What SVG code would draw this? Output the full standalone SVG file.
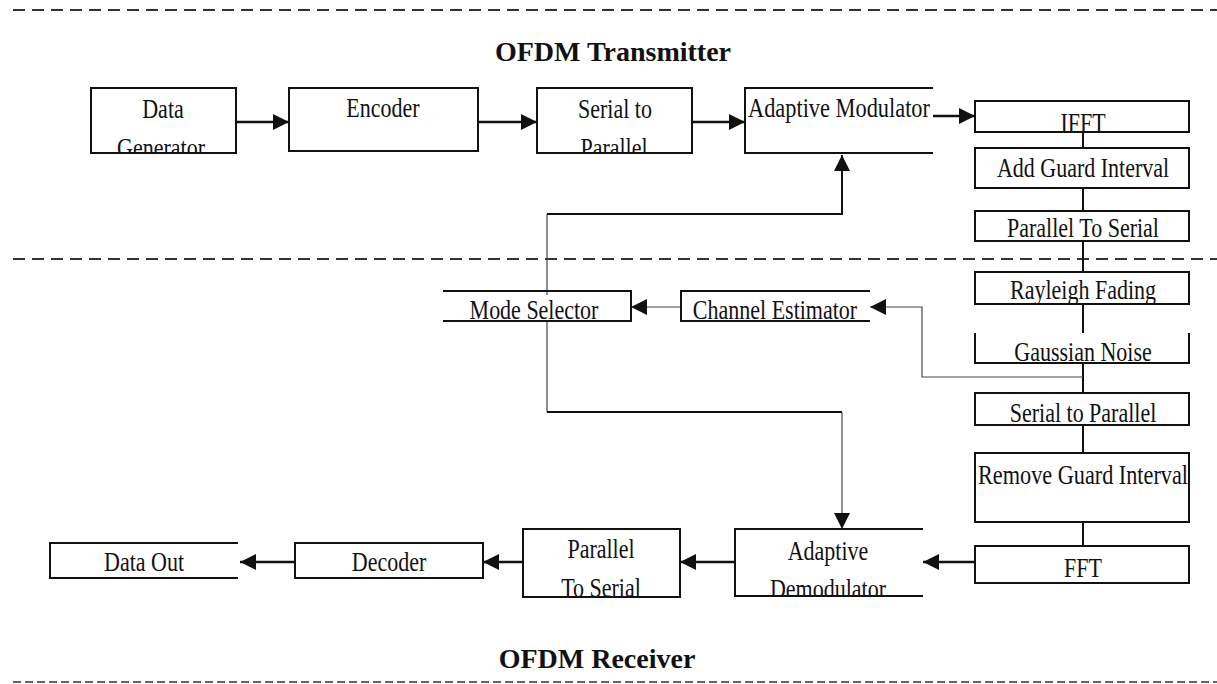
<svg xmlns="http://www.w3.org/2000/svg" width="1217" height="684" viewBox="0 0 1217 684">
<defs>
<style>
.t{font-family:"Liberation Serif","Times New Roman",serif;font-size:22px;fill:#111;text-anchor:middle}
.s{text-anchor:start}
.title{font-family:"Liberation Serif","Times New Roman",serif;font-size:28px;font-weight:bold;fill:#111;text-anchor:middle}
.box{fill:none;stroke:#111;stroke-width:2}
.dash{stroke:#333;stroke-width:2;stroke-dasharray:12 7;fill:none}
.dash2{stroke:#666;stroke-width:2;stroke-dasharray:8 4;fill:none}
.c{fill:none;stroke:#111;stroke-width:2.5}
.cv{fill:none;stroke:#111;stroke-width:2}
.thin{fill:none;stroke:#444;stroke-width:1.2}
</style>
<marker id="ah" viewBox="0 0 16 16" refX="16" refY="8" markerWidth="16" markerHeight="16" markerUnits="userSpaceOnUse" orient="auto">
<path d="M0,0 L16,8 L0,16 z" fill="#111"/>
</marker>
<clipPath id="clipGen" clipPathUnits="userSpaceOnUse"><rect x="91" y="88" width="145" height="65"/></clipPath>
<clipPath id="clipPar" clipPathUnits="userSpaceOnUse"><rect x="537" y="88" width="155" height="65"/></clipPath>
<clipPath id="clipDem" clipPathUnits="userSpaceOnUse"><rect x="735" y="529" width="188" height="67"/></clipPath>
<clipPath id="clipP2S" clipPathUnits="userSpaceOnUse"><rect x="523" y="529" width="157" height="68"/></clipPath>
</defs>
<rect width="1217" height="684" fill="#fff"/>

<g id="separators">
<line class="dash" x1="13" y1="10" x2="1217" y2="10"/>
<line class="dash" x1="13" y1="259" x2="1217" y2="259"/>
<line class="dash2" x1="13" y1="682" x2="1217" y2="682"/>
</g>

<g id="titles">
<text class="title" x="613" y="61">OFDM Transmitter</text>
<text class="title" x="597" y="668">OFDM Receiver</text>
</g>

<g id="connectors">
<line class="c" x1="236" y1="122" x2="289" y2="122" marker-end="url(#ah)"/>
<line class="c" x1="478" y1="122" x2="537" y2="122" marker-end="url(#ah)"/>
<line class="c" x1="692" y1="122" x2="745" y2="122" marker-end="url(#ah)"/>
<line class="c" x1="933" y1="116" x2="975" y2="116" marker-end="url(#ah)"/>
<line class="cv" x1="1083" y1="132" x2="1083" y2="148"/>
<line class="cv" x1="1083" y1="188" x2="1083" y2="211"/>
<line class="cv" x1="1083" y1="241" x2="1083" y2="272"/>
<line class="cv" x1="1083" y1="304" x2="1083" y2="333"/>
<line class="cv" x1="1083" y1="363" x2="1083" y2="393"/>
<line class="cv" x1="1083" y1="425" x2="1083" y2="453"/>
<line class="cv" x1="1083" y1="522" x2="1083" y2="546"/>
<line class="c" x1="975" y1="562" x2="923" y2="562" marker-end="url(#ah)"/>
<line class="c" x1="735" y1="562" x2="680" y2="562" marker-end="url(#ah)"/>
<line class="c" x1="523" y1="562" x2="483" y2="562" marker-end="url(#ah)"/>
<line class="c" x1="295" y1="562" x2="240" y2="562" marker-end="url(#ah)"/>
<polyline class="thin" points="1083,377 922,377 922,307 870,307" marker-end="url(#ah)"/>
<line class="thin" x1="681" y1="307" x2="631" y2="307" marker-end="url(#ah)"/>
<line class="thin" x1="547" y1="295" x2="547" y2="214"/>
<polyline class="cv" points="547,214 842,214 842,155" marker-end="url(#ah)"/>
<line class="thin" x1="547" y1="321" x2="547" y2="412"/>
<line class="cv" x1="547" y1="412" x2="842" y2="412"/>
<line class="thin" x1="842" y1="412" x2="842" y2="529" marker-end="url(#ah)"/>
</g>

<g id="data-generator">
<rect class="box" x="91" y="88" width="145" height="65"/>
<text class="t" transform="translate(163,118) scale(1,1.25)">Data</text>
<g clip-path="url(#clipGen)"><text class="t" transform="translate(161,157) scale(1,1.25)">Generator</text></g>
</g>
<g id="encoder">
<rect class="box" x="289" y="88" width="189" height="63"/>
<text class="t" transform="translate(383,117) scale(1,1.25)">Encoder</text>
</g>
<g id="serial-to-parallel-tx">
<rect class="box" x="537" y="88" width="155" height="65"/>
<text class="t" transform="translate(615,118) scale(1,1.25)">Serial to</text>
<g clip-path="url(#clipPar)"><text class="t" transform="translate(614,157) scale(1,1.25)">Parallel</text></g>
</g>
<g id="adaptive-modulator">
<path class="box" d="M933,88 H745 V153 H933"/>
<text class="t s" transform="translate(748,117) scale(1,1.25)" textLength="182" lengthAdjust="spacingAndGlyphs">Adaptive Modulator</text>
</g>
<g id="ifft">
<rect class="box" x="975" y="101" width="214" height="31"/>
<text class="t" transform="translate(1083,132) scale(1,1.25)">IFFT</text>
</g>
<g id="add-guard-interval">
<rect class="box" x="975" y="148" width="214" height="40"/>
<text class="t" transform="translate(1083,177) scale(1,1.25)">Add Guard Interval</text>
</g>
<g id="parallel-to-serial-tx">
<rect class="box" x="975" y="211" width="214" height="30"/>
<text class="t" transform="translate(1083,237) scale(1,1.25)">Parallel To Serial</text>
</g>
<g id="rayleigh-fading">
<rect class="box" x="975" y="272" width="214" height="32"/>
<text class="t" transform="translate(1083,299) scale(1,1.25)">Rayleigh Fading</text>
</g>
<g id="gaussian-noise">
<path class="box" d="M975,333 V363 H1189 V333"/>
<text class="t" transform="translate(1083,361) scale(1,1.25)">Gaussian Noise</text>
</g>
<g id="serial-to-parallel-rx">
<rect class="box" x="975" y="393" width="214" height="32"/>
<text class="t" transform="translate(1083,422) scale(1,1.25)">Serial to Parallel</text>
</g>
<g id="remove-guard-interval">
<rect class="box" x="975" y="453" width="214" height="69"/>
<text class="t" transform="translate(1083,484) scale(1,1.25)" textLength="210" lengthAdjust="spacingAndGlyphs">Remove Guard Interval</text>
</g>
<g id="fft">
<rect class="box" x="975" y="546" width="214" height="37"/>
<text class="t" transform="translate(1083,577) scale(1,1.25)">FFT</text>
</g>
<g id="adaptive-demodulator">
<path class="box" d="M923,529 H735 V596 H923"/>
<text class="t" transform="translate(828,560) scale(1,1.25)">Adaptive</text>
<g clip-path="url(#clipDem)"><text class="t" transform="translate(828,598) scale(1,1.25)">Demodulator</text></g>
</g>
<g id="parallel-to-serial-rx">
<rect class="box" x="523" y="529" width="157" height="68"/>
<text class="t" transform="translate(601,558) scale(1,1.25)">Parallel</text>
<g clip-path="url(#clipP2S)"><text class="t" transform="translate(601,597) scale(1,1.25)">To Serial</text></g>
</g>
<g id="decoder">
<rect class="box" x="295" y="543" width="188" height="35"/>
<text class="t" transform="translate(389,571) scale(1,1.25)">Decoder</text>
</g>
<g id="data-out">
<path class="box" d="M238,543 H50 V578 H238"/>
<text class="t" transform="translate(144,571) scale(1,1.25)">Data Out</text>
</g>
<g id="mode-selector">
<path class="box" d="M443,291 H631 V321 H443"/>
<text class="t" transform="translate(534,319) scale(1,1.25)">Mode Selector</text>
</g>
<g id="channel-estimator">
<path class="box" d="M870,291 H681 V321 H870"/>
<text class="t" transform="translate(775,319) scale(1,1.25)">Channel Estimator</text>
</g>
</svg>
